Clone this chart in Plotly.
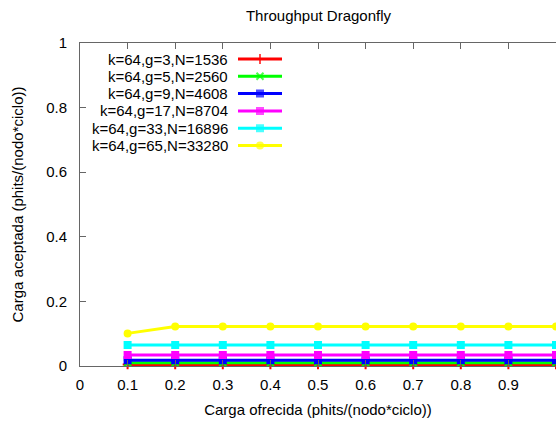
import plotly.graph_objects as go

# ---- data ----
carga_ofrecida = [0.1, 0.2, 0.3, 0.4, 0.5, 0.6, 0.7, 0.8, 0.9, 1.0]
series_names = [
    "k=64,g=3,N=1536",
    "k=64,g=5,N=2560",
    "k=64,g=9,N=4608",
    "k=64,g=17,N=8704",
    "k=64,g=33,N=16896",
    "k=64,g=65,N=33280",
]
g3 = [0.005] * 10
g5 = [0.010] * 10
g9 = [0.018] * 10
g17 = [0.034] * 10
g33 = [0.065] * 10
g65 = [0.101, 0.122, 0.122, 0.122, 0.122, 0.122, 0.122, 0.122, 0.122, 0.122]
series_values = [g3, g5, g9, g17, g33, g65]

x_tickvals = [0, 0.1, 0.2, 0.3, 0.4, 0.5, 0.6, 0.7, 0.8, 0.9]
x_ticktext = ["0", "0.1", "0.2", "0.3", "0.4", "0.5", "0.6", "0.7", "0.8", "0.9"]
y_tickvals = [0, 0.2, 0.4, 0.6, 0.8, 1.0]
y_ticktext = ["0", "0.2", "0.4", "0.6", "0.8", "1"]

# ---- styles ----
colors = ["#ff0000", "#00ff00", "#0000ff", "#ff00ff", "#00ffff", "#ffff00"]
symbols = ["cross-thin", "x-thin", "square", "square", "square", "circle"]
msizes = [7, 7, 6, 6, 6, 6]
FONT = "Liberation Sans, Arial, sans-serif"

W, H = 556, 421
ML, MR, MT, MB = 80, 0, 43, 55

fig = go.Figure()

for name, vals, c, s, ms in zip(series_names, series_values, colors, symbols, msizes):
    fig.add_trace(go.Scatter(
        x=carga_ofrecida, y=vals, mode="lines+markers", name=name,
        line=dict(color=c, width=3),
        marker=dict(symbol=s, size=ms, color=c, line=dict(color=c, width=2)),
        showlegend=False, cliponaxis=False,
    ))

# manual legend (text left of sample, gnuplot style) on a pixel-scaled overlay axis
leg_rows = [59, 76.3, 93.6, 110.9, 128.2, 145.5]
for i, (name, c, s, ms) in enumerate(zip(series_names, colors, symbols, msizes)):
    yy = leg_rows[i]
    fig.add_trace(go.Scatter(
        x=[238, 260, 282], y=[yy, yy, yy], xaxis="x2", yaxis="y2",
        mode="lines+markers", line=dict(color=c, width=3),
        marker=dict(symbol=s, size=[0, ms, 0], color=c, line=dict(color=c, width=2)),
        showlegend=False, hoverinfo="skip",
    ))
    fig.add_annotation(
        x=230, y=yy, xref="x2", yref="y2", text=name, showarrow=False,
        xanchor="right", yanchor="middle", font=dict(family=FONT, size=15, color="black"),
    )

axis_color = "#666666"
fig.update_layout(
    width=W, height=H,
    margin=dict(l=ML, r=MR, t=MT, b=MB),
    paper_bgcolor="white", plot_bgcolor="white",
    font=dict(family=FONT, color="black"),
    title=dict(text="Throughput Dragonfly", x=(ML + 557) / 2 / W, xanchor="center",
               y=1 - 16 / H, yanchor="middle", yref="container",
               font=dict(family=FONT, size=15, color="black")),
    xaxis=dict(
        range=[0, 1], tickvals=x_tickvals, ticktext=x_ticktext,
        ticks="inside", ticklen=6, tickcolor=axis_color, tickwidth=1,
        showline=True, linecolor=axis_color, linewidth=1, mirror="ticks",
        showgrid=False, zeroline=False,
        tickfont=dict(family=FONT, size=15, color="black"),
        ticklabelstandoff=5,
        title=dict(text="Carga ofrecida (phits/(nodo*ciclo))",
                   font=dict(family=FONT, size=15, color="black"), standoff=12),
    ),
    yaxis=dict(
        range=[0, 1], tickvals=y_tickvals, ticktext=y_ticktext,
        ticks="inside", ticklen=6, tickcolor=axis_color, tickwidth=1,
        showline=True, linecolor=axis_color, linewidth=1, mirror=False,
        showgrid=False, zeroline=False,
        tickfont=dict(family=FONT, size=15, color="black"),
        ticklabelstandoff=9,
        title=dict(text="Carga aceptada (phits/(nodo*ciclo))",
                   font=dict(family=FONT, size=15, color="black"), standoff=18),
    ),
    xaxis2=dict(range=[ML, W - MR], overlaying="x", visible=False, fixedrange=True),
    yaxis2=dict(range=[H - MB, MT], overlaying="y", visible=False, fixedrange=True),
)

fig.write_html("out.html")
